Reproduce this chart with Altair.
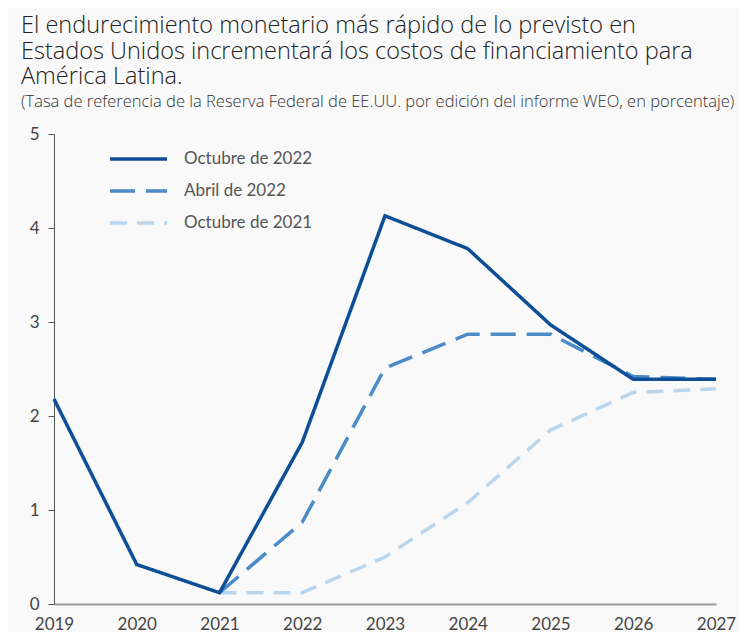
import altair as alt
import pandas as pd

years = [2019, 2020, 2021, 2022, 2023, 2024, 2025, 2026, 2027]
series_names = ["Octubre de 2022", "Abril de 2022", "Octubre de 2021"]
oct_2022 = [2.18, 0.42, 0.12, 1.72, 4.13, 3.78, 2.97, 2.39, 2.39]
abr_2022 = [None, None, 0.12, 0.87, 2.51, 2.87, 2.87, 2.42, 2.39]
oct_2021 = [None, None, 0.12, 0.12, 0.50, 1.08, 1.85, 2.25, 2.29]
colors = ["#0d4f96", "#4a8bc8", "#b9d6ee"]
dashes = [[1, 0], [25, 11], [17, 10]]

rows = []
for name, vals in [(series_names[2], oct_2021), (series_names[1], abr_2022), (series_names[0], oct_2022)]:
    for y, v in zip(years, vals):
        if v is not None:
            rows.append({"year": y, "value": v, "serie": name})
df = pd.DataFrame(rows)

FONT = "Lato"
TFONT = "Open Sans"

chart = alt.Chart(df).mark_line(strokeWidth=3.5, clip=False).encode(
    x=alt.X("year:Q",
            scale=alt.Scale(domain=[2019, 2027], nice=False, zero=False),
            axis=alt.Axis(values=years, format="d", title=None, ticks=False, grid=False,
                          domainColor="#9a9a9a", domainWidth=2, labelFont=FONT,
                          labelFontSize=17, labelColor="#444444", labelPadding=12,
                          labelFlush=False)),
    y=alt.Y("value:Q",
            scale=alt.Scale(domain=[0, 5], nice=False),
            axis=alt.Axis(values=[0, 1, 2, 3, 4, 5], title=None, grid=False,
                          tickSize=6, tickColor="#555555", domainColor="#555555",
                          domainWidth=1, labelFont=FONT, labelFontSize=17,
                          labelColor="#444444", labelPadding=9)),
    color=alt.Color("serie:N",
                    scale=alt.Scale(domain=series_names, range=colors),
                    legend=alt.Legend(title=None, orient="none", legendX=54, legendY=10,
                                      symbolType="stroke", symbolSize=3249,
                                      symbolStrokeWidth=3.5, clipHeight=30,
                                      labelFont=FONT, labelFontSize=17,
                                      labelColor="#555555", labelOffset=15)),
    strokeDash=alt.StrokeDash("serie:N",
                              scale=alt.Scale(domain=series_names, range=dashes),
                              legend=None),
).properties(
    width=662,
    height=470,
    padding={"left": 46, "top": 126, "right": 23, "bottom": 28},
    autosize=alt.AutoSizeParams(type="none"),
    background="#f9f9f9",
    title=alt.TitleParams(
        text=["El endurecimiento monetario más rápido de lo previsto en",
              "Estados Unidos incrementará los costos de financiamiento para",
              "América Latina."],
        subtitle="(Tasa de referencia de la Reserva Federal de EE.UU. por edición del informe WEO, en porcentaje)",
        anchor="start", frame="group", dx=-33, offset=15,
        font=TFONT, fontSize=23.5, fontWeight=300, color="#222222", lineHeight=25.5,
        subtitleFont=TFONT, subtitleFontSize=16.5, subtitleFontWeight=300,
        subtitleColor="#333333", subtitlePadding=5,
    ),
).configure_view(stroke=None)

chart.save("out.html", embed_options={"renderer": "svg", "actions": False})
